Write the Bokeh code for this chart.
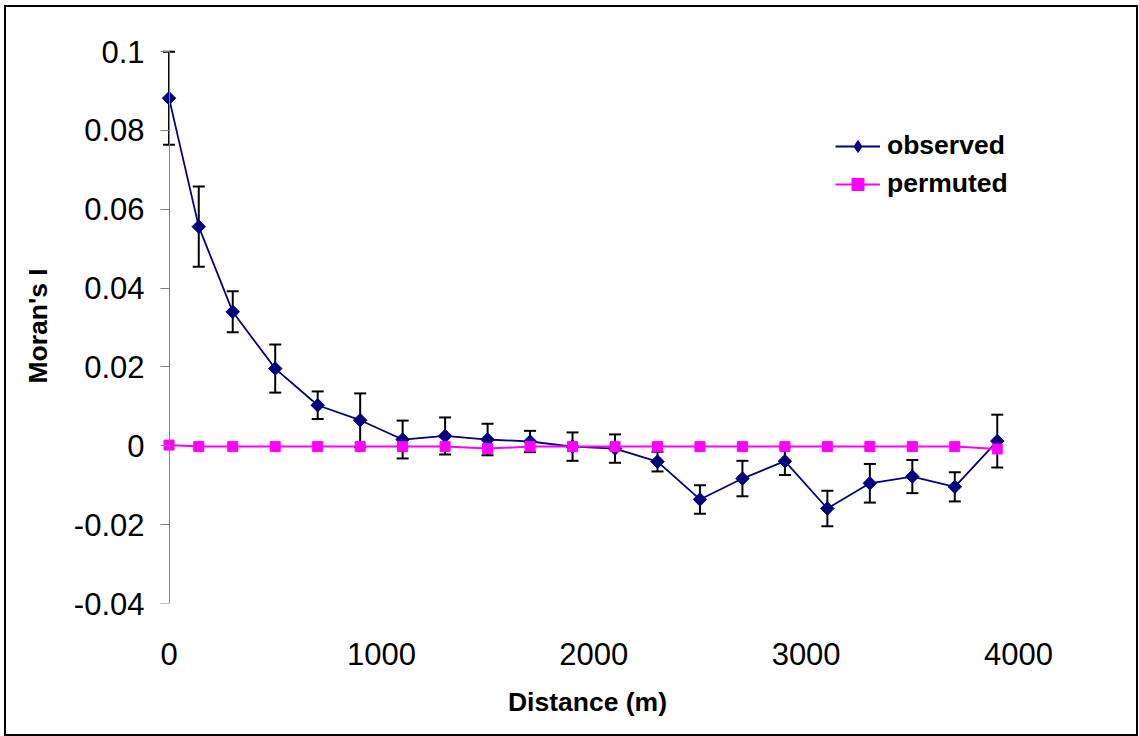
import numpy as np
from bokeh.plotting import figure
from bokeh.models import (Range1d, FixedTicker, ColumnDataSource, Whisker, TeeHead,
                          LinearAxis, CustomJSTickFormatter, Legend, LegendItem,
                          InlineStyleSheet)
from bokeh.embed import file_html
from bokeh.resources import INLINE

# ---- data ----
distance = [0, 140, 300, 500, 700, 900, 1100, 1300, 1500, 1700, 1900,
            2100, 2300, 2500, 2700, 2900, 3100, 3300, 3500, 3700, 3900]
observed = [0.0882, 0.0556, 0.0340, 0.0196, 0.0103, 0.0065, 0.0016, 0.0025,
            0.0016, 0.0011, -0.0002, -0.0007, -0.0040, -0.0136, -0.0083,
            -0.0039, -0.0159, -0.0095, -0.0078, -0.0104, 0.0012]
obs_err = [0.0118, 0.0102, 0.0052, 0.0061, 0.0035, 0.0068, 0.0048, 0.0047,
           0.0040, 0.0027, 0.0036, 0.0036, 0.0025, 0.0036, 0.0045, 0.0035,
           0.0045, 0.0049, 0.0042, 0.0037, 0.0067]
permuted = [0.0002, -0.0002, -0.0002, -0.0002, -0.0002, -0.0002, -0.0002,
            -0.0002, -0.0007, -0.0002, -0.0002, -0.0002, -0.0002, -0.0002,
            -0.0002, -0.0002, -0.0002, -0.0002, -0.0002, -0.0002, -0.0008]
x_ticks = [0, 1000, 2000, 3000, 4000]
x_tick_labels = ["0", "1000", "2000", "3000", "4000"]
y_ticks = [-0.04, -0.02, 0, 0.02, 0.04, 0.06, 0.08, 0.1]
y_tick_labels = ["-0.04", "-0.02", "0", "0.02", "0.04", "0.06", "0.08", "0.1"]
x_title = "Distance (m)"
y_title = "Moran's I"
series_names = ["observed", "permuted"]

FONT = "Liberation Sans"
NAVY = "#000080"
MAGENTA = "#FF00FF"

p = figure(width=1139, height=736,
           x_range=Range1d(-59, 4000), y_range=Range1d(-0.04, 0.1008),
           output_backend="svg", toolbar_location=None,
           x_axis_location=None, y_axis_location=None,
           min_border_left=156, min_border_right=121,
           min_border_top=48, min_border_bottom=133)
p.outline_line_color = None
p.grid.visible = False
p.background_fill_color = "white"
p.border_fill_color = "white"
# outer chart border (drawn as an overlay frame on the figure element)
p.stylesheets = [InlineStyleSheet(css="""
:host { position: relative; }
:host::after {
  content: "";
  position: absolute;
  left: 4px; top: 5px; right: 1px; bottom: 0px;
  border: 2px solid black;
  pointer-events: none;
  z-index: 1000;
}
""")]

# error bars
lower = [o - e for o, e in zip(observed, obs_err)]
upper = [o + e for o, e in zip(observed, obs_err)]
src = ColumnDataSource(dict(x=distance, lower=lower, upper=upper))
wh = Whisker(base="x", lower="lower", upper="upper", source=src,
             line_color="black", line_width=2,
             upper_head=TeeHead(size=12, line_color="black", line_width=2),
             lower_head=TeeHead(size=12, line_color="black", line_width=2))
p.add_layout(wh)

# observed
obs_line = p.line(distance, observed, line_color=NAVY, line_width=1.8)
p.scatter(distance, observed, marker="square", angle=np.pi / 4, size=9.5,
          fill_color=NAVY, line_color=NAVY)
obs_leg = p.scatter(distance, observed, marker="diamond", size=12,
                    fill_color=NAVY, line_color=NAVY, visible=False)

# permuted
perm_line = p.line(distance, permuted, line_color=MAGENTA, line_width=2)
perm_pts = p.scatter(distance, permuted, marker="square", size=10,
                     fill_color=MAGENTA, line_color=MAGENTA)

# x axis (labels only)
xa = LinearAxis(ticker=FixedTicker(ticks=x_ticks))
xa.major_label_overrides = dict(zip(x_ticks, x_tick_labels))
xa.axis_line_color = None
xa.major_tick_line_color = None
xa.minor_tick_line_color = None
xa.major_tick_out = 0
xa.major_tick_in = 0
xa.major_label_standoff = 39
xa.major_label_text_font = FONT
xa.major_label_text_font_size = "31px"
xa.major_label_text_color = "black"
xa.axis_label = x_title
xa.axis_label_text_font = FONT
xa.axis_label_text_font_style = "bold"
xa.axis_label_text_font_size = "26.5px"
xa.axis_label_text_color = "black"
xa.axis_label_standoff = 19
p.add_layout(xa, "below")

# y axis: labels and title
ya = LinearAxis(ticker=FixedTicker(ticks=y_ticks))
ya.major_label_overrides = dict(zip(y_ticks, y_tick_labels))
ya.axis_line_color = None
ya.major_tick_line_color = None
ya.minor_tick_line_color = None
ya.major_tick_out = 0
ya.major_tick_in = 0
ya.major_label_standoff = 12
ya.major_label_text_font = FONT
ya.major_label_text_font_size = "31px"
ya.major_label_text_color = "black"
ya.axis_label = y_title
ya.axis_label_text_font = FONT
ya.axis_label_text_font_style = "bold"
ya.axis_label_text_font_size = "26.5px"
ya.axis_label_text_color = "black"
ya.axis_label_standoff = 18
p.add_layout(ya, "left")

# y axis line and ticks at x = 0
yl = LinearAxis(ticker=FixedTicker(ticks=y_ticks), fixed_location=0,
                bounds=(-0.04, 0.1),
                formatter=CustomJSTickFormatter(code="return ''"))
yl.axis_line_color = "#808080"
yl.axis_line_width = 1
yl.major_tick_line_color = "#808080"
yl.minor_tick_line_color = None
yl.major_tick_in = 9
yl.major_tick_out = 0
p.add_layout(yl, "right")

# legend
legend = Legend(items=[LegendItem(label=series_names[0], renderers=[obs_line, obs_leg]),
                       LegendItem(label=series_names[1], renderers=[perm_line, perm_pts])])
legend.location = (679, 404)
legend.padding = 0
legend.margin = 0
legend.spacing = 7
legend.glyph_width = 45
legend.glyph_height = 30
legend.label_height = 30
legend.label_standoff = 7
legend.label_text_font = FONT
legend.label_text_font_style = "bold"
legend.label_text_font_size = "26.5px"
legend.label_text_color = "black"
legend.border_line_alpha = 0
legend.background_fill_alpha = 0
p.add_layout(legend, "center")

open("out.html", "w").write(file_html(p, INLINE))
